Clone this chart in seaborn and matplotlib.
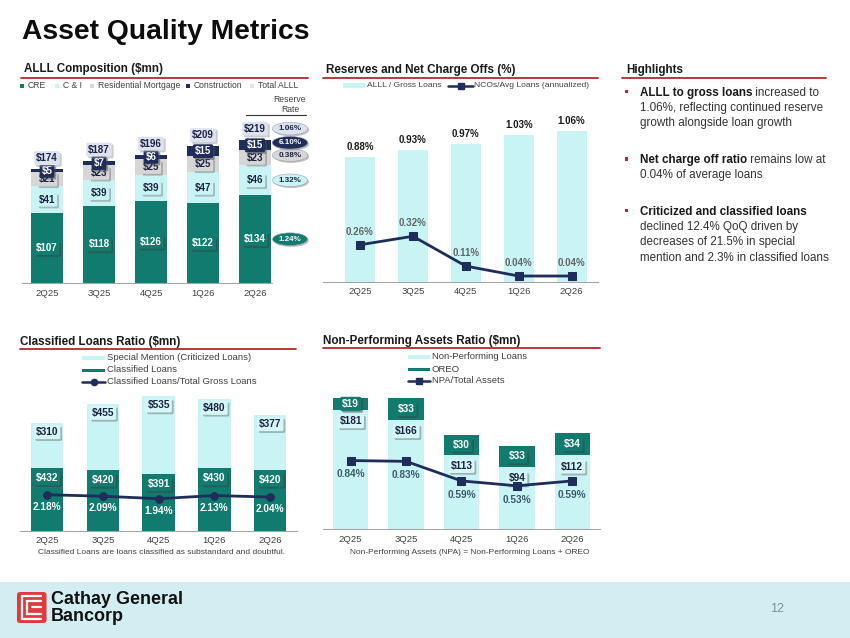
import numpy as np
import matplotlib
matplotlib.use("Agg")
import matplotlib.pyplot as plt
import matplotlib.patheffects as pe
from matplotlib.patches import Rectangle, FancyBboxPatch
from matplotlib.lines import Line2D
import seaborn as sns

# ---- data ----
quarters = ["2Q25", "3Q25", "4Q25", "1Q26", "2Q26"]

# ALLL composition ($mn)
alll_cre = [107, 118, 126, 122, 134]
alll_ci = [41, 39, 39, 47, 46]
alll_resi = [21, 23, 25, 25, 23]
alll_constr = [5, 7, 6, 15, 15]
alll_total = [174, 187, 196, 209, 219]
reserve_rates = ["1.24%", "1.32%", "0.38%", "6.10%", "1.06%"]  # CRE, C&I, Resi, Constr, Total

# Reserves and net charge offs (%)
alll_to_loans = [0.88, 0.93, 0.97, 1.03, 1.06]
nco_ratio = [0.26, 0.32, 0.11, 0.04, 0.04]

# Classified loans ($mn)
special_mention = [310, 455, 535, 480, 377]
classified = [432, 420, 391, 430, 420]
classified_ratio = [2.18, 2.09, 1.94, 2.13, 2.04]

# Non-performing assets ($mn)
npl = [181, 166, 113, 94, 112]
oreo = [19, 33, 30, 33, 34]
npa_ratio = [0.84, 0.83, 0.59, 0.53, 0.59]

# ---- colours ----
TEAL = "#107b6e"
CYAN = "#c8f4f6"
GREY = "#d6d6d6"
NAVY = "#1e2d5a"
LAV = "#e4e4ec"
RED = "#b8262b"
TXT = "#404040"

sns.set_theme(style="white")
plt.rcParams["font.family"] = ["Liberation Sans", "DejaVu Sans"]

W, H = 850, 638
fig = plt.figure(figsize=(W / 100, H / 100), dpi=100)


def px_axes(left, top, right, bottom):
    return fig.add_axes([left / W, 1 - bottom / H, (right - left) / W, (bottom - top) / H])


def ftext(x, y, s, **kw):
    kw.setdefault("va", "center")
    return fig.text(x / W, 1 - y / H, s, **kw)


def hline(x0, x1, y, color, lw, **kw):
    fig.add_artist(Line2D([x0 / W, x1 / W], [1 - y / H, 1 - y / H], color=color, lw=lw, **kw))


def fbox(x0, x1, yc, h, color):
    fig.add_artist(Rectangle((x0 / W, 1 - (yc + h / 2) / H), (x1 - x0) / W, h / H,
                             transform=fig.transFigure, color=color, lw=0))


def blabel(ax, x, y, s, fc, tc, size=7, shade="0.35"):
    t = ax.text(x, y, s, ha="center", va="center", fontsize=size, fontweight="bold", color=tc,
                zorder=6, clip_on=False,
                bbox=dict(boxstyle="round,pad=0.2,rounding_size=0.15", fc=fc, ec="none"))
    t.get_bbox_patch().set_path_effects(
        [pe.withSimplePatchShadow(offset=(1.3, -1.3), shadow_rgbFace=shade, alpha=0.5)])
    return t


def stacked(ax, layers, colors, width):
    cum = np.cumsum(np.array(layers, dtype=float), axis=0)
    for k in range(len(layers) - 1, -1, -1):
        sns.barplot(x=quarters, y=cum[k], color=colors[k], width=width, saturation=1,
                    errorbar=None, ax=ax, zorder=2, linewidth=0)
    return cum


def style(ax, xlim, ylim):
    ax.set_xlim(*xlim)
    ax.set_ylim(*ylim)
    ax.set_xlabel("")
    ax.set_ylabel("")
    ax.set_yticks([])
    ax.set_facecolor("none")
    for s in ["left", "right", "top"]:
        ax.spines[s].set_visible(False)
    ax.spines["bottom"].set_color("#a6a6a6")
    ax.spines["bottom"].set_linewidth(0.8)
    ax.tick_params(axis="x", length=0, pad=4, labelsize=6.8, labelcolor=TXT)


def section_title(x, y, s, x0, x1, yline):
    ftext(x, y, s, fontsize=8.4, fontweight="bold", color="#1a1a1a")
    hline(x0, x1, yline, RED, 1.3)


idx = np.arange(len(quarters))

# ---- header ----
ftext(22, 32, "Asset Quality Metrics", fontsize=20.3, fontweight="bold", color="#0d0d0d")

# ================= ALLL Composition =================
section_title(24, 69, "ALLL Composition ($mn)", 21, 308, 77.5)
for x0, lbl, col in [(20, "CRE", TEAL), (55, "C & I", CYAN), (90, "Residential Mortgage", GREY),
                     (186, "Construction", NAVY), (250, "Total ALLL", LAV)]:
    fbox(x0, x0 + 4, 85.7, 4, col)
    ftext(x0 + 8, 85.7, lbl, fontsize=6.2, color=TXT)
ftext(290, 100, "Reserve", fontsize=6.2, color=TXT, ha="center")
ftext(290, 109.5, "Rate", fontsize=6.2, color=TXT, ha="center")
hline(246, 306, 115, "#333333", 0.8)

ax1 = px_axes(22, 120, 272, 283)
layers1 = [alll_cre, alll_ci, alll_resi, alll_constr]
cum1 = stacked(ax1, layers1, [TEAL, CYAN, GREY, NAVY], 0.6)
style(ax1, ((22 - 47) / 52, (272 - 47) / 52), (0, 163 / 0.654))
seg_style = [(TEAL, "white", "0.25"), (CYAN, "#1c2340", "0.5"), (GREY, "#1c2340", "0.5"),
             (NAVY, "white", "0.3")]
for k, layer in enumerate(layers1):
    fc, tc, sh = seg_style[k]
    for i in idx:
        mid = cum1[k][i] - layer[i] / 2
        blabel(ax1, i, mid, f"${layer[i]}", fc, tc, shade=sh)
for i in idx:
    blabel(ax1, i, alll_total[i] + 17, f"${alll_total[i]}", "#dde2f0", "#1c2340", shade="0.6")

# reserve rate ellipses beside last bar
rate_y = [cum1[k][-1] - layers1[k][-1] / 2 for k in range(4)] + [alll_total[-1] + 17]
rate_y[2] += 4
rate_y[3] += 4
pill_style = [(TEAL, "white"), (CYAN, "#1c2340"), (GREY, "#1c2340"), (NAVY, "white"), ("#dde2f0", "#1c2340")]
for k, r in enumerate(reserve_rates):
    fc, tc = pill_style[k]
    t = ax1.text((290 - 47) / 52, rate_y[k], r, ha="center", va="center", fontsize=5.8,
                 fontweight="bold", color=tc, zorder=6, clip_on=False,
                 bbox=dict(boxstyle="ellipse,pad=0.12", fc=fc, ec="#9aa0b0", lw=0.4))
    t.get_bbox_patch().set_path_effects(
        [pe.withSimplePatchShadow(offset=(1, -1), shadow_rgbFace="0.5", alpha=0.5)])

# ================= Reserves and NCOs =================
section_title(326, 70, "Reserves and Net Charge Offs (%)", 323, 598, 77.5)
fbox(343, 365, 85.7, 5, CYAN)
ftext(367, 85.7, "ALLL / Gross Loans", fontsize=6.1, color=TXT)
hline(448, 473, 85.7, NAVY, 1.8)
fig.add_artist(Line2D([460.5 / W], [1 - 85.7 / H], marker="s", markersize=4.5, color=NAVY))
ftext(474, 85.7, "NCOs/Avg Loans (annualized)", fontsize=6.1, color=TXT)

ax2 = px_axes(323, 110, 598, 281.7)
sns.barplot(x=quarters, y=alll_to_loans, color=CYAN, width=0.57, saturation=1,
            errorbar=None, ax=ax2, zorder=2, linewidth=0)
sns.lineplot(x=idx, y=nco_ratio, ax=ax2, color=NAVY, marker="s", markersize=5.5,
             markeredgecolor=NAVY, linewidth=2, zorder=4)
style(ax2, ((323 - 360) / 52.9, (598 - 360) / 52.9), (0, (281.7 - 110) / 142))
for i in idx:
    ax2.text(i, alll_to_loans[i] + 0.07, f"{alll_to_loans[i]:.2f}%", ha="center", va="center",
             fontsize=7, fontweight="bold", color="#1a1a1a")
    ax2.text(i, nco_ratio[i] + 0.092, f"{nco_ratio[i]:.2f}%", ha="center", va="center",
             fontsize=7, fontweight="bold", color="#646464", zorder=5)

# ================= Classified Loans =================
section_title(20, 342, "Classified Loans Ratio ($mn)", 20, 296, 349.3)
fbox(82, 105, 358, 4, CYAN)
ftext(107, 358, "Special Mention (Criticized Loans)", fontsize=6.8, color=TXT)
fbox(82, 105, 370, 3, TEAL)
ftext(107, 370, "Classified Loans", fontsize=6.8, color=TXT)
hline(82, 105, 382, NAVY, 1.8)
fig.add_artist(Line2D([93.5 / W], [1 - 382 / H], marker="o", markersize=4.5, color=NAVY))
ftext(107, 382, "Classified Loans/Total Gross Loans", fontsize=6.8, color=TXT)

ax3 = px_axes(20, 390, 297, 530.7)
cum3 = stacked(ax3, [classified, special_mention], [TEAL, CYAN], 0.58)
style(ax3, ((20 - 47) / 55.8, (297 - 47) / 55.8), (0, (530.7 - 390) / 0.145))
ax3b = ax3.twinx()
sns.lineplot(x=idx, y=classified_ratio, ax=ax3b, color=NAVY, marker="o", markersize=5.5,
             markeredgecolor=NAVY, linewidth=2, zorder=4)
ax3b.set_ylim(0, (530.7 - 390) / 16.5)
ax3b.axis("off")
for i in idx:
    blabel(ax3, i, cum3[1][i] - 62, f"${special_mention[i]}", "#d5f7f8", "#1c2340", size=7.3, shade="0.45")
    blabel(ax3, i, classified[i] - 69, f"${classified[i]}", TEAL, "white", size=7.3, shade="0.25")
    ax3b.text(i, classified_ratio[i] - 0.73, f"{classified_ratio[i]:.2f}%", ha="center",
              va="center", fontsize=7.3, fontweight="bold", color="white", zorder=5)
ftext(162, 552.7, "Classified Loans are loans classified as substandard and doubtful.",
      fontsize=6.0, color=TXT, ha="center")

# ================= Non-Performing Assets =================
section_title(323, 341, "Non-Performing Assets Ratio ($mn)", 323, 600, 347.5)
fbox(408, 430, 356.7, 4, CYAN)
ftext(432, 356.7, "Non-Performing Loans", fontsize=6.8, color=TXT)
fbox(408, 430, 369, 3, TEAL)
ftext(432, 369, "OREO", fontsize=6.8, color=TXT)
hline(408, 430, 381, NAVY, 1.8)
fig.add_artist(Line2D([419 / W], [1 - 381 / H], marker="s", markersize=4.5, color=NAVY))
ftext(432, 381, "NPA/Total Assets", fontsize=6.8, color=TXT)

ax4 = px_axes(323, 390, 600, 529)
cum4 = stacked(ax4, [npl, oreo], [CYAN, TEAL], 0.64)
style(ax4, ((323 - 350.7) / 55.4, (600 - 350.7) / 55.4), (0, 139 / 0.657))
ax4b = ax4.twinx()
sns.lineplot(x=idx, y=npa_ratio, ax=ax4b, color=NAVY, marker="s", markersize=5.5,
             markeredgecolor=NAVY, linewidth=2, zorder=4)
ax4b.set_ylim(0, 139 / 81.5)
ax4b.axis("off")
for i in idx:
    blabel(ax4, i, npl[i] - 17, f"${npl[i]}", "#d5f7f8", "#1c2340", size=7.3, shade="0.45")
    blabel(ax4, i, cum4[1][i] - oreo[i] / 2, f"${oreo[i]}", TEAL, "white", size=7.3, shade="0.25")
    ax4b.text(i, npa_ratio[i] - 0.17, f"{npa_ratio[i]:.2f}%", ha="center", va="center",
              fontsize=7.3, fontweight="bold", color="#3f5a6a", zorder=5)
ftext(470, 552.7, "Non-Performing Assets (NPA) = Non-Performing Loans + OREO",
      fontsize=6.0, color=TXT, ha="center")

# ================= Highlights =================
section_title(626, 70, "Highlights", 622, 826, 77.5)
bullets = [
    ("ALLL to gross loans", " increased to", ["1.06%, reflecting continued reserve",
                                             "growth alongside loan growth"], 92.7),
    ("Net charge off ratio", " remains low at", ["0.04% of average loans"], 160),
    ("Criticized and classified loans", "", ["declined 12.4% QoQ driven by",
                                            "decreases of 21.5% in special",
                                            "mention and 2.3% in classified loans"], 211.7),
]
renderer = fig.canvas.get_renderer()
for bold, rest, lines, y0 in bullets:
    fbox(624.5, 628, y0 - 1, 3.5, "#c0262d")
    tb = ftext(640, y0, bold, fontsize=8.4, fontweight="bold", color="#1a1a1a")
    if rest:
        x_end = tb.get_window_extent(renderer).x1
        fig.text(x_end / W, 1 - y0 / H, rest, fontsize=8.4, color="#333333", va="center")
    for j, ln in enumerate(lines):
        ftext(640, y0 + 15.3 * (j + 1), ln, fontsize=8.4, color="#333333")

# ================= Footer =================
fig.add_artist(Rectangle((0, 0), 1, (H - 582) / H, transform=fig.transFigure,
                         color="#d3eef2", lw=0, zorder=0))
logo = FancyBboxPatch((17 / W, 1 - 623 / H), 29.5 / W, 31 / H, transform=fig.transFigure,
                      boxstyle="round,pad=0,rounding_size=0.004", fc="#e03a3e", ec="none")
fig.add_artist(logo)
for xs, ys in [([41, 22, 22, 41], [596, 596, 618.5, 618.5]),
               ([41, 27, 27, 41], [601, 601, 613.5, 613.5]),
               ([41, 32], [607.2, 607.2])]:
    fig.add_artist(Line2D([x / W for x in xs], [1 - y / H for y in ys], color="white", lw=1.6,
                          solid_joinstyle="miter"))
ftext(51, 600, "Cathay General", fontsize=13, fontweight="bold", color="#111111")
ftext(51, 616.5, "Bancorp", fontsize=13, fontweight="bold", color="#111111")
ftext(777, 609, "12", fontsize=9, color="#7f8f96", ha="center")

fig.savefig("out.png", dpi=100)
